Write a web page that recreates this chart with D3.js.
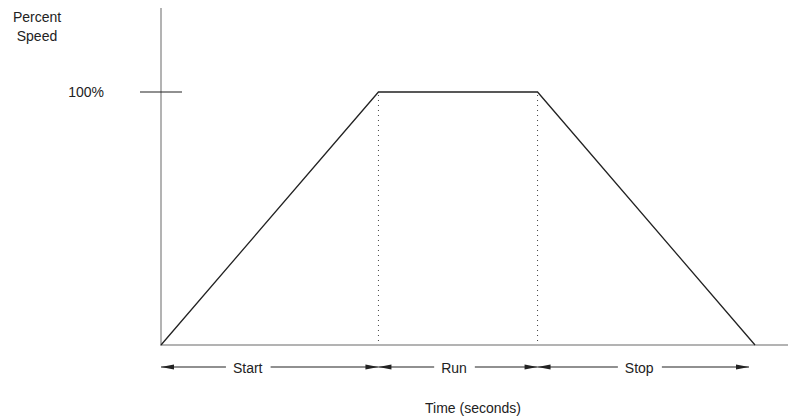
<!DOCTYPE html>
<html><head><meta charset="utf-8">
<script src="https://cdn.jsdelivr.net/npm/d3@7"></script>
<style>body{margin:0;background:#fff}svg{display:block}text{font-family:"Liberation Sans",Arial,sans-serif;fill:#222}</style>
</head><body>
<svg id="c" width="788" height="420"></svg>
<script>
// Data: speed profile (time in arbitrary seconds, speed in percent)
const times = [0, 4.1, 7.1, 11.2];
const speeds = [0, 100, 100, 0];
const phases = ["Start", "Run", "Stop"];
const yTickValues = [100];
const yTickLabels = ["100%"];
const yTitle = ["Percent", "Speed"];
const xTitle = "Time (seconds)";

const svg = d3.select("#c");
const x = d3.scaleLinear().domain([0, 11.2]).range([161, 755]);
const y = d3.scaleLinear().domain([0, 100]).range([345, 92]);
const pts = times.map((t, i) => [t, speeds[i]]);

// axes
svg.append("line").attr("x1", x(0)).attr("x2", 788).attr("y1", y(0)).attr("y2", y(0))
  .attr("stroke", "#b3b3b3").attr("stroke-width", 2);
svg.append("line").attr("x1", x(0)).attr("x2", x(0)).attr("y1", 8).attr("y2", y(0) + 1)
  .attr("stroke", "#b3b3b3").attr("stroke-width", 2);

// y tick
yTickValues.forEach((v, i) => {
  svg.append("line").attr("x1", 140).attr("x2", 182).attr("y1", y(v)).attr("y2", y(v))
    .attr("stroke", "#222").attr("stroke-width", 1.2);
  svg.append("text").attr("x", 104).attr("y", y(v) + 5).attr("text-anchor", "end")
    .attr("font-size", 14).text(yTickLabels[i]);
});

// dotted verticals
[times[1], times[2]].forEach(t => {
  svg.append("line").attr("x1", x(t)).attr("x2", x(t)).attr("y1", y(100) + 3).attr("y2", y(0))
    .attr("stroke", "#444").attr("stroke-width", 1).attr("stroke-dasharray", "1,4");
});

// profile line
svg.append("path").attr("d", d3.line().x(d => x(d[0])).y(d => y(d[1]))(pts))
  .attr("fill", "none").attr("stroke", "#222").attr("stroke-width", 1.3);

// phase arrows
const ay = 367;
function head(tip, dir) {
  const L = 13, H = 2.6;
  svg.append("path").attr("d", `M${tip},${ay} L${tip + dir * L},${ay - H} L${tip + dir * L},${ay + H} Z`)
    .attr("fill", "#222");
}
phases.forEach((p, i) => {
  const a = x(times[i]), b = (i === 2 ? x(times[3]) - 6 : x(times[i + 1]));
  const t = svg.append("text").attr("x", (a + b) / 2 + (i === 0 ? -22 : -4)).attr("y", ay + 6)
    .attr("text-anchor", "middle").attr("font-size", 14).text(p);
  const bb = t.node().getBBox();
  svg.append("line").attr("x1", a).attr("x2", bb.x - 7).attr("y1", ay).attr("y2", ay).attr("stroke", "#222").attr("stroke-width", 1.2);
  svg.append("line").attr("x1", bb.x + bb.width + 8).attr("x2", b).attr("y1", ay).attr("y2", ay).attr("stroke", "#222").attr("stroke-width", 1.2);
  head(a, 1);
  head(b, -1);
});

// titles
yTitle.forEach((s, i) => {
  svg.append("text").attr("x", 37).attr("y", 22 + i * 19).attr("text-anchor", "middle")
    .attr("font-size", 14).text(s);
});
svg.append("text").attr("x", 473).attr("y", 413).attr("text-anchor", "middle")
  .attr("font-size", 14).text(xTitle);
</script>
</body></html>
